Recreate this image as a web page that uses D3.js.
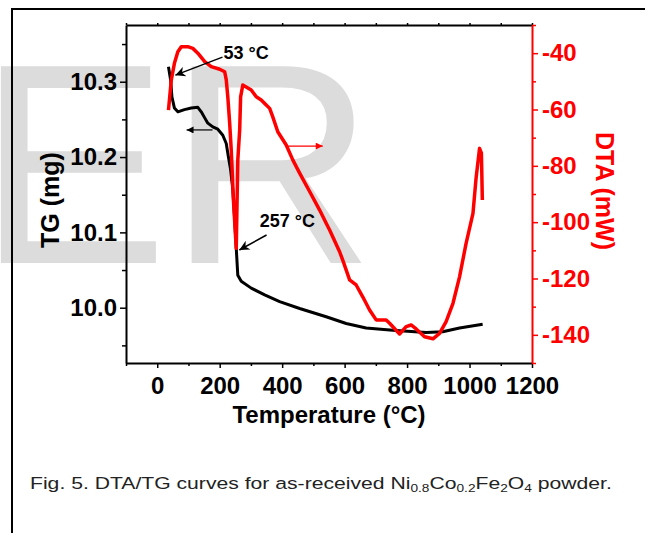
<!DOCTYPE html>
<html>
<head>
<meta charset="utf-8">
<script src="https://cdn.jsdelivr.net/npm/d3@7"></script>
<style>
  body { margin: 0; background: #fff; }
  svg { display: block; font-family: "Liberation Sans", Arial, sans-serif; }
</style>
</head>
<body>
<div class="diagram"></div>
<script>
// TG curve (black, left axis)
const tgTemp = [36, 43, 47, 55, 66, 87, 109, 130, 141, 152, 162, 178, 194, 210, 221, 228, 235, 242, 248, 253, 258, 269, 301, 344, 392, 456, 541, 605, 669, 754, 861, 914, 968, 1042];
const tgMass = [10.320, 10.302, 10.280, 10.265, 10.260, 10.263, 10.265, 10.266, 10.260, 10.252, 10.245, 10.240, 10.237, 10.229, 10.218, 10.200, 10.183, 10.157, 10.117, 10.079, 10.043, 10.035, 10.026, 10.017, 10.008, 9.999, 9.988, 9.979, 9.973, 9.970, 9.967, 9.968, 9.973, 9.978];

// DTA curve (red, right axis)
const dtaTemp = [36, 45, 55, 66, 77, 98, 114, 130, 152, 173, 200, 216, 221, 226, 232, 237, 244, 253, 258, 264, 267, 274, 301, 317, 333, 349, 360, 370, 386, 413, 434, 456, 488, 520, 541, 552, 584, 594, 616, 637, 658, 680, 701, 733, 744, 776, 797, 813, 829, 856, 883, 904, 925, 947, 968, 989, 1011, 1021, 1032, 1038, 1041];
const dtaVal = [-60.2, -49.5, -43.6, -39.5, -37.7, -37.7, -38.3, -40.0, -43.0, -44.8, -45.7, -46.6, -49.5, -55.5, -64.9, -74.4, -92.1, -109.3, -77.9, -67.3, -55.5, -51.3, -53.1, -55.5, -56.6, -58.4, -59.6, -62.6, -67.9, -72.6, -77.9, -82.6, -89.1, -95.7, -100.4, -102.8, -110.5, -113.5, -120.5, -122.3, -126.5, -131.2, -134.7, -134.7, -135.9, -139.7, -137.1, -136.5, -137.9, -140.7, -141.4, -139.5, -135.3, -128.8, -119.4, -107.5, -96.9, -84.3, -73.8, -75.5, -92.1];

// ticks
const xTicks = [0, 200, 400, 600, 800, 1000, 1200];
const xMinor = [-100, 100, 300, 500, 700, 900, 1100];
const tgTicks = [10.0, 10.1, 10.2, 10.3];
const tgMinor = [9.95, 10.05, 10.15, 10.25, 10.35];
const dtaTicks = [-40, -60, -80, -100, -120, -140];
const dtaMinor = [-30, -50, -70, -90, -110, -130, -150];

const W = 645, H = 533;
const pL = 126, pR = 532, pT = 25, pB = 363;
const RED = "#ff0000";

const svg = d3.select(".diagram").append("svg").attr("width", W).attr("height", H);

// watermark
svg.append("text")
   .attr("x", -22.6).attr("y", 263)
   .attr("font-size", 286)
   .attr("fill", "#dcdcdc")
   .text("ER");

// outer frame (top + left)
svg.append("path").attr("d", `M12,${H} L12,9 L${W},9`)
   .attr("fill", "none").attr("stroke", "#000").attr("stroke-width", 2);

const x = d3.scaleLinear().domain([-100, 1200]).range([pL, pR]);
const yTG = d3.scaleLinear().domain([9.9266, 10.3753]).range([pB, pT]);
const yDTA = d3.scaleLinear().domain([-150, -30]).range([pB, pT]);

function styleAxis(g, color) {
  g.select(".domain").attr("stroke", color).attr("stroke-width", 2);
  g.selectAll(".tick line").attr("stroke", color).attr("stroke-width", 1.5);
  g.selectAll("text").attr("fill", color).attr("font-size", 24).attr("font-weight", "bold")
   .attr("font-family", "Liberation Sans, Arial, sans-serif");
}

// bottom axis
const gx = svg.append("g").attr("transform", `translate(0,${pB})`)
  .call(d3.axisBottom(x).tickValues(xTicks).tickSize(5).tickPadding(9).tickSizeOuter(0).tickFormat(d => String(d)));
styleAxis(gx, "#000");
svg.append("g").attr("transform", `translate(0,${pB})`)
  .call(d3.axisBottom(x).tickValues(xMinor).tickSize(3).tickFormat(""))
  .call(g => { g.select(".domain").remove(); g.selectAll("line").attr("stroke", "#000").attr("stroke-width", 1.5); });

// top axis
const gt = svg.append("g").attr("transform", `translate(0,${pT})`)
  .call(d3.axisTop(x).tickValues(xTicks.concat(xMinor)).tickSize(2).tickSizeOuter(0).tickFormat(""));
styleAxis(gt, "#000");

// left axis
const gy = svg.append("g").attr("transform", `translate(${pL},0)`)
  .call(d3.axisLeft(yTG).tickValues(tgTicks).tickSize(6).tickPadding(3).tickSizeOuter(0).tickFormat(d3.format(".1f")));
styleAxis(gy, "#000");
svg.append("g").attr("transform", `translate(${pL},0)`)
  .call(d3.axisLeft(yTG).tickValues(tgMinor).tickSize(4).tickFormat(""))
  .call(g => { g.select(".domain").remove(); g.selectAll("line").attr("stroke", "#000").attr("stroke-width", 1.5); });

// right axis (red)
const gr = svg.append("g").attr("transform", `translate(${pR},0)`)
  .call(d3.axisRight(yDTA).tickValues(dtaTicks).tickSize(6).tickPadding(4).tickSizeOuter(0).tickFormat(d => String(d)));
styleAxis(gr, RED);
svg.append("g").attr("transform", `translate(${pR},0)`)
  .call(d3.axisRight(yDTA).tickValues(dtaMinor).tickSize(4).tickFormat(""))
  .call(g => { g.select(".domain").remove(); g.selectAll("line").attr("stroke", RED).attr("stroke-width", 1.5); });

// axis titles
svg.append("text").attr("x", (pL + pR) / 2).attr("y", 423)
   .attr("text-anchor", "middle").attr("font-size", 24).attr("font-weight", "bold")
   .text("Temperature (°C)");
svg.append("text").attr("transform", "translate(59,200) rotate(-90)")
   .attr("text-anchor", "middle").attr("font-size", 25).attr("font-weight", "bold")
   .text("TG (mg)");
svg.append("text").attr("transform", "translate(596,191) rotate(90)")
   .attr("text-anchor", "middle").attr("font-size", 25).attr("font-weight", "bold")
   .attr("fill", RED).text("DTA (mW)");

// curves
const tgLine = d3.line().x(d => x(d[0])).y(d => yTG(d[1]));
const dtaLine = d3.line().x(d => x(d[0])).y(d => yDTA(d[1]));

svg.append("path").datum(d3.zip(tgTemp, tgMass))
   .attr("d", tgLine).attr("fill", "none").attr("stroke", "#000")
   .attr("stroke-width", 3).attr("stroke-linejoin", "round");
svg.append("path").datum(d3.zip(dtaTemp, dtaVal))
   .attr("d", dtaLine).attr("fill", "none").attr("stroke", RED)
   .attr("stroke-width", 3.5).attr("stroke-linejoin", "round");

// arrow markers
const defs = svg.append("defs");
[["ahBlack", "#000"], ["ahRed", RED]].forEach(([id, c]) => {
  defs.append("marker").attr("id", id).attr("viewBox", "0 0 10 10")
    .attr("refX", 10).attr("refY", 5).attr("markerUnits", "userSpaceOnUse")
    .attr("markerWidth", 10).attr("markerHeight", 7).attr("orient", "auto")
    .append("path").attr("d", "M0,0 L10,5 L0,10 Z").attr("fill", c);
});
defs.append("marker").attr("id", "ahBig").attr("viewBox", "0 0 10 10")
  .attr("refX", 10).attr("refY", 5).attr("markerUnits", "userSpaceOnUse")
  .attr("markerWidth", 13).attr("markerHeight", 10).attr("orient", "auto")
  .append("path").attr("d", "M0,0 L10,5 L0,10 L3,5 Z").attr("fill", "#000");

// axis direction arrows
svg.append("line")
   .attr("x1", x(177)).attr("y1", yTG(10.236)).attr("x2", x(94)).attr("y2", yTG(10.236))
   .attr("stroke", "#000").attr("stroke-width", 1.2).attr("marker-end", "url(#ahBlack)");
svg.append("line")
   .attr("x1", x(414)).attr("y1", yDTA(-73)).attr("x2", x(530)).attr("y2", yDTA(-73))
   .attr("stroke", RED).attr("stroke-width", 1.2).attr("marker-end", "url(#ahRed)");

// peak annotations
svg.append("line")
   .attr("x1", x(209)).attr("y1", yDTA(-41.4)).attr("x2", x(58)).attr("y2", yDTA(-47.8))
   .attr("stroke", "#000").attr("stroke-width", 1.5).attr("marker-end", "url(#ahBig)");
svg.append("text").attr("x", x(212)).attr("y", yDTA(-42.1))
   .attr("font-size", 18).attr("font-weight", "bold").text("53 °C");

svg.append("line")
   .attr("x1", x(350)).attr("y1", yTG(10.0965)).attr("x2", x(263)).attr("y2", yTG(10.0766))
   .attr("stroke", "#000").attr("stroke-width", 1.5).attr("marker-end", "url(#ahBig)");
svg.append("text").attr("x", x(328)).attr("y", yTG(10.107))
   .attr("font-size", 18).attr("font-weight", "bold").text("257 °C");

// caption
const cap = svg.append("text").attr("font-size", 17).attr("fill", "#222");
cap.append("tspan").text("Fig. 5. DTA/TG curves for as-received Ni");
cap.append("tspan").attr("font-size", 11).attr("dy", 3).text("0.8");
cap.append("tspan").attr("dy", -3).text("Co");
cap.append("tspan").attr("font-size", 11).attr("dy", 3).text("0.2");
cap.append("tspan").attr("dy", -3).text("Fe");
cap.append("tspan").attr("font-size", 11).attr("dy", 3).text("2");
cap.append("tspan").attr("dy", -3).text("O");
cap.append("tspan").attr("font-size", 11).attr("dy", 3).text("4");
cap.append("tspan").attr("dy", -3).text(" powder.");
const capLen = cap.node().getComputedTextLength();
cap.attr("transform", `translate(30,489) scale(${582 / capLen},1)`);
</script>
</body>
</html>
